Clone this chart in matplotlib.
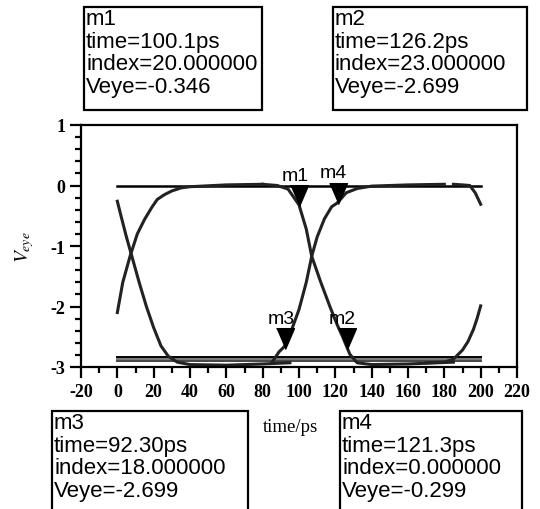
import numpy as np
import matplotlib.pyplot as plt
from matplotlib.patches import Rectangle
from matplotlib.ticker import MultipleLocator

plt.rcParams['mathtext.fontset'] = 'stix'
plt.rcParams['axes.unicode_minus'] = False

# eye diagram traces (time in ps, Veye in V)
fall1_t = [0, 2, 5, 8, 12, 16, 20, 24, 28, 33, 40, 60, 80, 95]
fall1_v = [-0.26, -0.5, -0.85, -1.17, -1.6, -2.0, -2.35, -2.65, -2.82, -2.92, -2.96, -2.97, -2.95, -2.93]
rise1_t = [0, 3, 7, 11, 15, 19, 22, 26, 30, 35, 40, 60, 80]
rise1_v = [-2.1, -1.6, -1.17, -0.8, -0.56, -0.36, -0.23, -0.15, -0.09, -0.04, -0.02, 0.01, 0.02]
fall2_t = [80, 88, 94, 100, 104, 107, 112, 117, 121, 124, 128, 132, 140, 160, 185]
fall2_v = [0.02, 0.0, -0.06, -0.32, -0.72, -1.17, -1.6, -2.0, -2.3, -2.5, -2.79, -2.93, -2.96, -2.95, -2.92]
rise2_t = [85, 89, 92, 96, 100, 104, 107, 110, 114, 118, 121, 126, 132, 140, 160, 180]
rise2_v = [-2.93, -2.75, -2.66, -2.38, -2.05, -1.6, -1.17, -0.85, -0.55, -0.35, -0.29, -0.12, -0.05, -0.01, 0.01, 0.02]
fall3_t = [185, 190, 194, 197, 200]
fall3_v = [0.02, 0.01, 0.0, -0.12, -0.31]
rise3_t = [170, 180, 185, 190, 193, 196, 198, 200]
rise3_v = [-2.93, -2.92, -2.87, -2.72, -2.58, -2.38, -2.2, -1.99]
top_t = [0, 200]
top_v = [0.0, 0.0]
bot_levels = [-2.84, -2.87, -2.9]

markers = ['m1', 'm2', 'm3', 'm4']
mk_time = [100.1, 126.2, 92.30, 121.3]
mk_index = [20.0, 23.0, 18.0, 0.0]
mk_veye = [-0.346, -2.699, -2.699, -0.299]
mk_time_txt = ['100.1', '126.2', '92.30', '121.3']

W, H = 540, 510
fig = plt.figure(figsize=(5.4, 5.1), dpi=100)
ax = fig.add_axes([81 / W, 1 - 368 / H, (517 - 81) / W, (368 - 126) / H])

lc = '#222222'
ax.plot(top_t, top_v, color='black', lw=1.8)
for i, lv in enumerate(bot_levels):
    ax.plot([0, 200], [lv, lv], color=['black', '#777777', '#444444'][i], lw=1.4)
for t, v in [(fall1_t, fall1_v), (rise1_t, rise1_v), (fall2_t, fall2_v),
             (rise2_t, rise2_v), (fall3_t, fall3_v), (rise3_t, rise3_v)]:
    ax.plot(t, v, color=lc, lw=2.2)

tri = [(-0.43, 1.0), (0.43, 1.0), (0.0, 0.0)]
for name, t, v in zip(markers, mk_time, mk_veye):
    ax.plot([t], [v], marker=tri, markersize=30, color='black', linestyle='none')
    ax.annotate(name, (t, v), xytext=(-3, 16), textcoords='offset points',
                ha='center', va='bottom', fontsize=14, family='Liberation Sans')

ax.set_xlim(-20, 220)
ax.set_ylim(-3, 1)
ax.xaxis.set_major_locator(MultipleLocator(20))
ax.xaxis.set_minor_locator(MultipleLocator(10))
ax.yaxis.set_major_locator(MultipleLocator(1))
ax.yaxis.set_minor_locator(MultipleLocator(0.2))
ax.tick_params(which='major', direction='out', length=8, width=1.6,
               labelsize=13, labelfontfamily='Liberation Serif')
ax.tick_params(which='minor', direction='out', length=4, width=1.6)
fig.canvas.draw()
for lab in ax.get_xticklabels() + ax.get_yticklabels():
    lab.set_fontweight('bold')
for s in ax.spines.values():
    s.set_linewidth(1.6)

ax.set_ylabel(r'$V_{eye}$', fontsize=14, labelpad=10)
fig.text(290 / W, 1 - 428 / H, 'time/ps', ha='center', va='center',
         fontsize=13.5, family='Liberation Serif')

# marker readout boxes (pixel positions of the boxes)
boxes = {'m1': (84, 8, 262, 111), 'm2': (333, 8, 527, 111),
         'm3': (52, 412, 248, 515), 'm4': (340, 412, 522, 515)}
for name, t, idx, v, ttxt in zip(markers, mk_time, mk_index, mk_veye, mk_time_txt):
    x0, y0, x1, y1 = boxes[name]
    fig.add_artist(Rectangle((x0 / W, 1 - y1 / H), (x1 - x0) / W, (y1 - y0) / H,
                             transform=fig.transFigure, fill=False, lw=1.6,
                             edgecolor='black', clip_on=False))
    txt = f"{name}\ntime={ttxt}ps\nindex={idx:.6f}\nVeye={v:.3f}"
    fig.text((x0 + 2) / W, 1 - (y0 + 1) / H, txt, ha='left', va='top',
             fontsize=16, linespacing=1.1, family='Liberation Sans')

fig.savefig('out.png', dpi=100)
